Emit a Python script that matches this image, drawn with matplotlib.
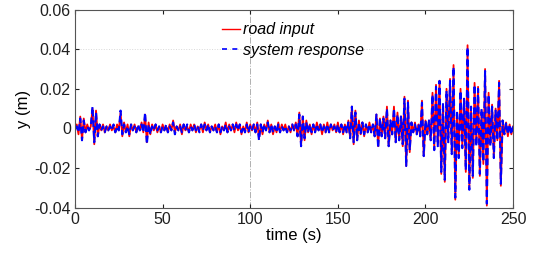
import numpy as np
import matplotlib
matplotlib.use('Agg')
import matplotlib.pyplot as plt

# road profile and suspension response at 1 s steps
time_s = np.arange(0, 251, 1)

road_input = [
    0.000, 0.002, -0.003, 0.006, -0.006, 0.005, -0.002, 0.002, -0.001, 0.001,
    0.010, -0.008, 0.009, -0.004, 0.002, -0.001, 0.002, -0.002, 0.001, -0.001,
    0.002, -0.001, 0.001, -0.002, 0.002, -0.001, 0.008, -0.004, 0.003, -0.002,
    0.002, -0.004, 0.002, -0.001, 0.002, -0.002, 0.001, -0.001, 0.003, -0.002,
    0.007, -0.007, 0.003, -0.003, 0.002, -0.001, 0.002, -0.002, 0.001, -0.002,
    0.002, -0.001, 0.001, -0.002, 0.002, -0.001, 0.004, -0.002, 0.001, -0.001,
    0.002, -0.003, 0.002, -0.001, 0.001, -0.002, 0.002, -0.001, 0.002, -0.002,
    0.001, -0.001, 0.002, -0.002, 0.003, -0.001, 0.002, -0.002, 0.001, -0.001,
    0.002, -0.002, 0.002, -0.003, 0.001, -0.001, 0.003, -0.002, 0.002, -0.001,
    0.002, -0.002, 0.003, -0.001, 0.002, -0.003, 0.001, -0.002, 0.003, -0.002,
    0.002, -0.001, 0.002, -0.002, 0.003, -0.005, 0.002, -0.003, 0.002, -0.001,
    0.004, -0.002, 0.002, -0.003, 0.001, -0.002, 0.003, -0.002, 0.002, -0.001,
    0.002, -0.002, 0.001, -0.002, 0.002, -0.001, 0.003, -0.004, 0.008, -0.009,
    0.006, -0.006, 0.004, -0.002, 0.002, -0.003, 0.002, -0.002, 0.003, -0.001,
    0.002, -0.003, 0.002, -0.002, 0.003, -0.002, 0.002, -0.001, 0.002, -0.002,
    0.003, -0.002, 0.002, -0.003, 0.002, -0.002, 0.004, -0.005, 0.011, -0.008,
    0.009, -0.006, 0.004, -0.003, 0.003, -0.004, 0.002, -0.002, 0.003, -0.002,
    0.002, -0.004, 0.007, -0.009, 0.005, -0.004, 0.006, -0.005, 0.011, -0.009,
    0.004, -0.003, 0.011, -0.007, 0.008, -0.006, 0.006, -0.009, 0.016, -0.019,
    0.014, -0.012, 0.003, -0.002, 0.003, -0.003, 0.002, -0.004, 0.014, -0.014,
    0.004, -0.003, 0.004, -0.006, 0.018, -0.010, 0.022, -0.008, 0.024, -0.023,
    0.012, -0.027, 0.020, -0.006, 0.025, -0.012, 0.032, -0.036, 0.008, -0.014,
    0.020, -0.009, 0.014, -0.022, 0.042, -0.030, 0.010, -0.025, 0.023, -0.008,
    0.021, -0.024, 0.009, -0.018, 0.030, -0.039, 0.018, -0.008, 0.012, -0.014,
    0.010, -0.006, 0.024, -0.029, 0.004, -0.003, 0.003, -0.004, 0.002, -0.003,
    0.001,
]

system_response = [
    0.000, 0.001, -0.002, 0.005, -0.006, 0.004, -0.002, 0.001, -0.001, 0.001,
    0.011, -0.007, 0.008, -0.004, 0.002, -0.001, 0.001, -0.002, 0.001, -0.001,
    0.001, -0.001, 0.002, -0.002, 0.001, -0.001, 0.009, -0.003, 0.002, -0.002,
    0.001, -0.003, 0.002, -0.001, 0.001, -0.002, 0.002, -0.001, 0.002, -0.002,
    0.008, -0.008, 0.002, -0.003, 0.001, -0.001, 0.002, -0.001, 0.001, -0.002,
    0.001, -0.001, 0.002, -0.002, 0.001, -0.001, 0.003, -0.003, 0.001, -0.001,
    0.001, -0.002, 0.002, -0.001, 0.002, -0.002, 0.001, -0.001, 0.002, -0.001,
    0.001, -0.002, 0.002, -0.001, 0.002, -0.001, 0.002, -0.002, 0.001, -0.001,
    0.001, -0.002, 0.002, -0.002, 0.001, -0.001, 0.002, -0.002, 0.001, -0.001,
    0.002, -0.001, 0.002, -0.001, 0.002, -0.002, 0.001, -0.002, 0.002, -0.002,
    0.001, -0.001, 0.002, -0.002, 0.002, -0.006, 0.002, -0.002, 0.002, -0.001,
    0.003, -0.002, 0.002, -0.002, 0.001, -0.002, 0.002, -0.002, 0.001, -0.001,
    0.001, -0.002, 0.001, -0.001, 0.002, -0.001, 0.002, -0.004, 0.007, -0.009,
    0.006, -0.005, 0.003, -0.002, 0.002, -0.002, 0.002, -0.002, 0.002, -0.001,
    0.002, -0.002, 0.001, -0.002, 0.002, -0.002, 0.002, -0.001, 0.001, -0.002,
    0.002, -0.002, 0.002, -0.002, 0.002, -0.002, 0.003, -0.005, 0.011, -0.007,
    0.008, -0.006, 0.003, -0.003, 0.003, -0.003, 0.002, -0.002, 0.002, -0.002,
    0.002, -0.004, 0.007, -0.010, 0.005, -0.004, 0.005, -0.005, 0.010, -0.009,
    0.004, -0.003, 0.010, -0.007, 0.007, -0.006, 0.006, -0.008, 0.015, -0.019,
    0.013, -0.011, 0.003, -0.002, 0.002, -0.003, 0.002, -0.004, 0.013, -0.014,
    0.004, -0.003, 0.004, -0.006, 0.017, -0.011, 0.021, -0.009, 0.024, -0.022,
    0.013, -0.026, 0.019, -0.007, 0.024, -0.013, 0.031, -0.035, 0.009, -0.015,
    0.019, -0.010, 0.015, -0.021, 0.041, -0.031, 0.011, -0.024, 0.022, -0.009,
    0.020, -0.023, 0.010, -0.017, 0.029, -0.038, 0.017, -0.009, 0.011, -0.015,
    0.009, -0.006, 0.023, -0.028, 0.004, -0.003, 0.003, -0.003, 0.002, -0.003,
    0.001,
]

x_ticks = [0, 50, 100, 150, 200, 250]
y_ticks = [-0.04, -0.02, 0, 0.02, 0.04, 0.06]
y_tick_labels = ['-0.04', '-0.02', '0', '0.02', '0.04', '0.06']

plt.rcParams['font.family'] = ['Liberation Sans', 'DejaVu Sans']

fig = plt.figure(figsize=(5.33, 2.59), dpi=100)
ax = fig.add_axes([0.1407, 0.1985, 0.822, 0.7645])

# faint MATLAB-style reference lines
ax.axvline(100, color='#b0b0b0', linestyle='-.', linewidth=0.7, zorder=0)
ax.axhline(0.04, color='#d8d8d8', linestyle=':', linewidth=0.7, zorder=0)

ax.plot(time_s, road_input, color='red', linewidth=1.3, label='road input')
ax.plot(time_s, system_response, color='blue', linewidth=1.5,
        dashes=(3.2, 1.8), label='system response')

ax.set_xlim(0, 250)
ax.set_ylim(-0.04, 0.06)
ax.set_xticks(x_ticks)
ax.set_yticks(y_ticks)
ax.set_yticklabels(y_tick_labels)
ax.tick_params(direction='in', length=3, top=True, right=True,
               labelsize=11.5, colors='#202020', pad=3)
for s in ax.spines.values():
    s.set_color('#555555')
    s.set_linewidth(0.8)

ax.set_xlabel('time (s)', fontsize=12, labelpad=1)
ax.set_ylabel('y (m)', fontsize=12, labelpad=2)

leg = ax.legend(loc='upper left', bbox_to_anchor=(0.336, 0.935), frameon=False,
                fontsize=11.5, handlelength=1.1, handletextpad=0.2,
                labelspacing=0.35, borderpad=0, borderaxespad=0)
for t in leg.get_texts():
    t.set_fontstyle('italic')
leg.get_lines()[0].set_linewidth(1.0)
leg.get_lines()[1].set_linewidth(1.2)
leg.get_lines()[1].set_dashes((3.0, 3.2))

fig.savefig('out.png', dpi=100)
